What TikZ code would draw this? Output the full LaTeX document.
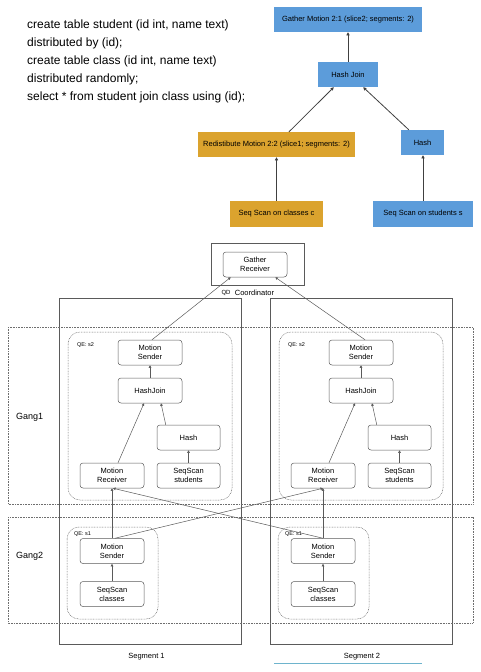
\documentclass[tikz,border=0pt]{standalone}
\usepackage{fontspec}
\setmainfont{Liberation Sans}
\usetikzlibrary{arrows.meta}
\definecolor{planblue}{RGB}{92,156,218}
\definecolor{planorange}{RGB}{219,163,46}
\definecolor{linegray}{RGB}{90,90,90}
\definecolor{dotgray}{RGB}{110,110,110}
\definecolor{segline}{RGB}{110,180,205}
\tikzset{
  sqltext/.style={anchor=west, inner sep=0pt, font=\fontsize{12}{14}\selectfont},
  planbox/.style={fill=planblue, inner sep=0pt, minimum height=25pt, font=\fontsize{7.5}{9}\selectfont},
  planorg/.style={planbox, fill=planorange},
  planarrow/.style={draw=black!75, line width=0.8pt, -{Triangle[width=3.2pt,length=3.2pt]}},
  opbox/.style={draw=linegray, line width=0.5pt, rounded corners=3pt, inner sep=0pt, minimum width=64pt, minimum height=25pt, align=center, font=\fontsize{7.5}{9}\selectfont},
  oparrow/.style={draw=linegray, line width=0.5pt, -{Triangle[width=2.6pt,length=2.6pt]}},
  frame/.style={draw=linegray, line width=0.5pt},
  gangbox/.style={draw=dotgray, line width=0.5pt, dash pattern=on 0.8pt off 0.8pt},
  qebox/.style={draw=dotgray, line width=0.5pt, dash pattern=on 0.8pt off 0.8pt, rounded corners=12pt},
  tiny/.style={inner sep=0pt, font=\fontsize{5.5}{6}\selectfont},
  lbl/.style={inner sep=0pt, font=\fontsize{7.5}{9}\selectfont}
}
\begin{document}
\begin{tikzpicture}[x=1pt,y=-1pt]
\useasboundingbox (0,0) rectangle (481,672);
% SQL text
\node[sqltext] (l1) at (27,25) {create table student (id int, name text)};
\node[sqltext] (l2) at (27,43) {distributed by (id);};
\node[sqltext] (l3) at (27,61) {create table class (id int, name text)};
\node[sqltext] (l4) at (27,79) {distributed randomly;};
\node[sqltext] (l5) at (27,97) {select * from student join class using (id);};
% plan tree
\node[planbox, minimum width=148pt] (gm) at (348,19.5) {Gather Motion 2:1 (slice2; segments: 2)};
\node[planbox, minimum width=60pt] (hj) at (348,74.5) {Hash Join};
\node[planorg, minimum width=157pt] (rd) at (276.5,144.5) {Redistibute Motion 2:2 (slice1; segments: 2)};
\node[planbox, minimum width=43pt] (hs) at (422.5,142.5) {Hash};
\node[planorg, minimum width=93pt, minimum height=26pt] (scc) at (276.5,214) {Seq Scan on classes c};
\node[planbox, minimum width=100pt, minimum height=26pt] (sss) at (423,214) {Seq Scan on students s};
\draw[planarrow] (hj.north) -- (gm.south);
\draw[planarrow] ([xshift=12.5pt]rd.north) -- ([xshift=16pt]hj.south west);
\draw[planarrow] ([xshift=8pt]hs.north west) -- ([xshift=-15pt]hj.south east);
\draw[planarrow] (scc.north) -- (scc.north |- rd.south);
\draw[planarrow] (sss.north) -- (sss.north |- hs.south);
% frames
\draw[frame] (211,243) rectangle (304,285);
\draw[frame] (59,298) rectangle (241,644);
\draw[frame] (270,298) rectangle (452,644);
\draw[gangbox] (8,327) rectangle (473,504);
\draw[gangbox] (8,517) rectangle (473,623);
\draw[qebox] (68,332) rectangle (232,500);
\draw[qebox] (279,332) rectangle (443,500);
\draw[qebox] (67,527) rectangle (158,619);
\draw[qebox] (278,527) rectangle (369,619);
% labels
\node[tiny, font=\fontsize{6}{7}\selectfont] (qd) at (226,293) {QD};
\node[lbl] (coordl) at (254.5,293) {Coordinator};
\node[lbl, anchor=west, font=\fontsize{9}{10}\selectfont] (g1) at (16,417) {Gang1};
\node[lbl, anchor=west, font=\fontsize{9}{10}\selectfont] (g2) at (16,556) {Gang2};
\node[tiny, anchor=west] (qa) at (77,345) {QE: s2};
\node[tiny, anchor=west] (qb) at (288,345) {QE: s2};
\node[tiny, anchor=west] (qc) at (74,534) {QE: s1};
\node[tiny, anchor=west] (qdd) at (285,534) {QE: s1};
\node[lbl] (seg1) at (146.5,657) {Segment 1};
\node[lbl] (seg2) at (362,657) {Segment 2};
\draw[segline, line width=0.8pt] (274,663) -- (422,663);
% operator nodes
\node[opbox] (gr) at (255,264.5) {Gather\\Receiver};
\node[opbox] (ms1) at (150,352.5) {Motion\\Sender};
\node[opbox] (hj1) at (150,390.5) {HashJoin};
\node[opbox, minimum width=63pt] (hs1) at (188.5,437.5) {Hash};
\node[opbox, minimum width=63pt] (ss1) at (188.5,475.5) {SeqScan\\students};
\node[opbox] (mr1) at (112,475.5) {Motion\\Receiver};
\node[opbox] (ms2) at (361,352.5) {Motion\\Sender};
\node[opbox] (hj2) at (361,390.5) {HashJoin};
\node[opbox, minimum width=63pt] (hs2) at (399.5,437.5) {Hash};
\node[opbox, minimum width=63pt] (ss2) at (399.5,475.5) {SeqScan\\students};
\node[opbox] (mr2) at (323,475.5) {Motion\\Receiver};
\node[opbox] (mb1) at (112,551) {Motion\\Sender};
\node[opbox] (sc1) at (112,594) {SeqScan\\classes};
\node[opbox] (mb2) at (323,551) {Motion\\Sender};
\node[opbox] (sc2) at (323,594) {SeqScan\\classes};
% operator arrows
\draw[oparrow] ([xshift=2pt]ms1.north) -- ([xshift=8pt]gr.south west);
\draw[oparrow] ([xshift=4pt]ms2.north) -- ([xshift=-12pt]gr.south east);
\foreach \s in {1,2}{
  \draw[oparrow] (hj\s.north) -- (ms\s.south);
  \draw[oparrow] ([xshift=6pt]mr\s.north) -- ([xshift=-6pt]hj\s.south);
  \draw[oparrow] ([xshift=9pt]hs\s.north west) -- ([xshift=11pt]hj\s.south);
  \draw[oparrow] (ss\s.north) -- (hs\s.south);
  \draw[oparrow] (sc\s.north) -- (mb\s.south);
  \draw[oparrow] (mb\s.north) -- (mr\s.south);
}
\draw[oparrow] ([xshift=3pt]mb1.north) -- (mr2.south);
\draw[oparrow] (mb2.north) -- ([xshift=1pt]mr1.south);
\end{tikzpicture}
\end{document}
